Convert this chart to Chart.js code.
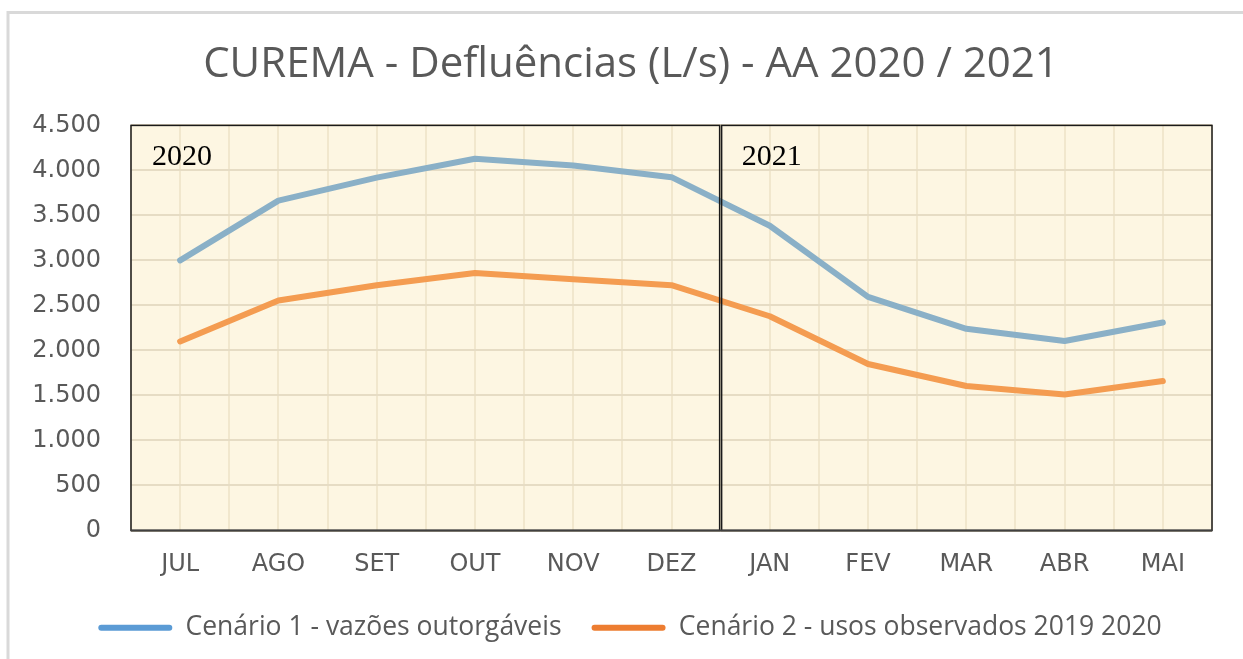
<!DOCTYPE html>
<html>
<head>
<meta charset="utf-8">
<script src="https://cdn.jsdelivr.net/npm/chart.js@4.4.1/dist/chart.umd.min.js"></script>
<style>
  html, body { margin: 0; padding: 0; background: #ffffff; }
  #wrap { position: relative; width: 1243px; height: 659px; }
  canvas { display: block; }
</style>
</head>
<body>
<div id="wrap"><canvas id="c" width="1243" height="659"></canvas></div>
<script>
// ---- data ----
const categories = ['JUL', 'AGO', 'SET', 'OUT', 'NOV', 'DEZ', 'JAN', 'FEV', 'MAR', 'ABR', 'MAI'];
const cenario1 = [3000, 3665, 3920, 4130, 4055, 3925, 3385, 2595, 2240, 2105, 2310];
const cenario2 = [2100, 2555, 2725, 2860, 2790, 2725, 2380, 1850, 1605, 1510, 1660];
const seriesNames = ['Cenário 1 - vazões outorgáveis', 'Cenário 2 - usos observados 2019 2020'];
const yTicks = [0, 500, 1000, 1500, 2000, 2500, 3000, 3500, 4000, 4500];
const yearLabels = ['2020', '2021'];
const yearSplitIndex = 6; // first category of 2021
const titleText = 'CUREMA - Defluências (L/s) - AA 2020 / 2021';

function fmt(v) {
  return String(v).replace(/\B(?=(\d{3})+(?!\d))/g, '.');
}

const lineColors = ['#8ab0c7', '#f49c51'];
const legendColors = ['#5b9bd5', '#ed7d31'];

const framePlugin = {
  id: 'framePlugin',
  afterLayout(chart) {
    // nudge title and legend horizontally to match the original centring
    if (chart.titleBlock) { chart.titleBlock.left += 15; chart.titleBlock.right += 15; }
    if (chart.legend) { chart.legend.left += 14; chart.legend.right += 14; }
  },
  beforeDraw(chart) {
    const ctx = chart.ctx;
    const a = chart.chartArea;
    ctx.save();
    ctx.fillStyle = '#ffffff';
    ctx.fillRect(0, 0, chart.width, chart.height);
    // outer light frame (left and top)
    ctx.strokeStyle = '#d9d9d9';
    ctx.lineWidth = 3;
    ctx.beginPath();
    ctx.moveTo(8, chart.height);
    ctx.lineTo(8, 12.5);
    ctx.lineTo(chart.width, 12.5);
    ctx.stroke();
    // plot background
    ctx.fillStyle = '#fdf6e2';
    ctx.fillRect(a.left, a.top, a.right - a.left, a.bottom - a.top);
    ctx.restore();
  },
  afterDatasetsDraw(chart) {
    const ctx = chart.ctx;
    const a = chart.chartArea;
    const x = chart.scales.x;
    const split = (x.getPixelForValue(yearSplitIndex - 1) + x.getPixelForValue(yearSplitIndex)) / 2;
    ctx.save();
    ctx.strokeStyle = '#1a1a1a';
    ctx.lineWidth = 1.5;
    ctx.strokeRect(a.left, a.top, split - 1 - a.left, a.bottom - a.top);
    ctx.strokeRect(split + 1, a.top, a.right - split - 1, a.bottom - a.top);
    ctx.strokeStyle = '#404040';
    ctx.lineWidth = 2;
    ctx.beginPath();
    ctx.moveTo(a.left, a.bottom);
    ctx.lineTo(a.right, a.bottom);
    ctx.stroke();
    ctx.fillStyle = '#000000';
    ctx.font = '30px "Liberation Serif", "Times New Roman", serif';
    ctx.textBaseline = 'alphabetic';
    ctx.textAlign = 'left';
    ctx.fillText(yearLabels[0], a.left + 21, a.top + 40);
    ctx.fillText(yearLabels[1], split + 21, a.top + 40);
    ctx.restore();
  }
};

const chart = new Chart(document.getElementById('c'), {
  type: 'line',
  data: {
    labels: categories,
    datasets: [
      { label: seriesNames[0], data: cenario1, borderColor: lineColors[0], backgroundColor: lineColors[0],
        borderWidth: 6, pointRadius: 0, tension: 0, borderCapStyle: 'round', borderJoinStyle: 'round' },
      { label: seriesNames[1], data: cenario2, borderColor: lineColors[1], backgroundColor: lineColors[1],
        borderWidth: 6, pointRadius: 0, tension: 0, borderCapStyle: 'round', borderJoinStyle: 'round' }
    ]
  },
  options: {
    responsive: false,
    animation: false,
    devicePixelRatio: 1,
    layout: { padding: { left: 20, right: 31, top: 0, bottom: 8 } },
    plugins: {
      tooltip: { enabled: false },
      title: {
        display: true,
        text: titleText,
        color: '#595959',
        font: { family: 'Open Sans', size: 42, weight: 'normal', lineHeight: 1.2 },
        padding: { top: 40, bottom: 35 }
      },
      legend: {
        display: true,
        position: 'bottom',
        labels: {
          color: '#595959',
          font: { family: 'Open Sans', size: 26.5 },
          boxWidth: 74,
          boxHeight: 6,
          padding: 30,
          useBorderRadius: true,
          borderRadius: 3,
          generateLabels(ch) {
            return ch.data.datasets.map((ds, i) => ({
              text: ds.label,
              fillStyle: legendColors[i],
              strokeStyle: legendColors[i],
              lineWidth: 0,
              borderRadius: 3,
              datasetIndex: i,
              hidden: false,
              fontColor: '#595959'
            }));
          }
        }
      }
    },
    scales: {
      x: {
        type: 'category',
        offset: true,
        position: 'bottom',
        grid: { display: false, drawTicks: false },
        border: { display: false },
        ticks: { color: '#595959', font: { family: 'DejaVu Sans', size: 24 }, padding: 20, maxRotation: 0, autoSkip: false },
        afterFit(s) { s.height = 54; }
      },
      xg: {
        type: 'linear',
        position: 'top',
        min: -0.5,
        max: 10.5,
        grid: { color: '#f1e7cd', lineWidth: 2, drawTicks: false },
        border: { display: false },
        ticks: { display: false, stepSize: 0.5, maxTicksLimit: 40 },
        afterFit(s) { s.height = 0; }
      },
      y: {
        min: 0,
        max: 4500,
        grid: { color: '#e6dcc4', lineWidth: 2, drawTicks: false },
        border: { display: false },
        afterBuildTicks(s) { s.ticks = yTicks.map(v => ({ value: v })); },
        ticks: { color: '#595959', font: { family: 'DejaVu Sans', size: 24 }, padding: 30, callback: v => fmt(v) },
        afterFit(s) { s.width = 111; }
      }
    }
  },
  plugins: [framePlugin]
});
</script>
</body>
</html>
